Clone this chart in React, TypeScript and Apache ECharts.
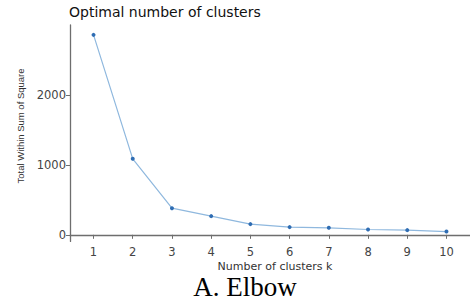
import React, { useEffect, useRef } from "react";
import * as echarts from "echarts";

const ks = [1, 2, 3, 4, 5, 6, 7, 8, 9, 10];
const wss = [2857, 1086, 381, 267, 153, 110, 100, 76, 67, 47];
const yTicks = [0, 1000, 2000];
const chartTitle = "Optimal number of clusters";
const xTitle = "Number of clusters k";
const yTitle = "Total Within Sum of Square";
const caption = "A. Elbow";

export default function App() {
  const ref = useRef<HTMLDivElement>(null);
  useEffect(() => {
    if (!ref.current) return;
    const chart = echarts.init(ref.current, null, { renderer: "svg" });
    const axisColor = "#6e6e6e";
    const labelColor = "#444444";
    chart.setOption({
      animation: false,
      backgroundColor: "#ffffff",
      title: {
        text: chartTitle,
        left: 69,
        top: 5,
        padding: 0,
        textStyle: {
          fontFamily: "DejaVu Sans",
          fontSize: 14,
          fontWeight: "normal",
          color: "#111111",
        },
      },
      grid: { left: 70, top: 25, width: 411, height: 216.4 },
      xAxis: {
        type: "value",
        min: 0.4,
        max: 10.6,
        axisLine: { show: true, lineStyle: { color: axisColor, width: 1.3 } },
        axisTick: {
          show: true,
          length: 4,
          customValues: ks,
          lineStyle: { color: axisColor, width: 1 },
        },
        axisLabel: {
          customValues: ks,
          margin: 5,
          formatter: (v: number) => String(v),
          fontFamily: "DejaVu Sans",
          fontSize: 11.5,
          color: labelColor,
        },
        splitLine: { show: false },
      },
      yAxis: {
        type: "value",
        min: -94,
        max: 2998,
        axisLine: { show: true, lineStyle: { color: axisColor, width: 1.3 } },
        axisTick: {
          show: true,
          length: 4,
          customValues: yTicks,
          lineStyle: { color: axisColor, width: 1 },
        },
        axisLabel: {
          customValues: yTicks,
          margin: 4,
          formatter: (v: number) => String(v),
          fontFamily: "DejaVu Sans",
          fontSize: 11.5,
          color: labelColor,
        },
        splitLine: { show: false },
      },
      graphic: [
        {
          type: "text",
          x: 275,
          y: 266,
          style: {
            text: xTitle,
            align: "center",
            verticalAlign: "middle",
            fontFamily: "DejaVu Sans",
            fontSize: 11,
            fill: "#333333",
          },
        },
        {
          type: "text",
          x: 20,
          y: 126,
          rotation: Math.PI / 2,
          style: {
            text: yTitle,
            align: "center",
            verticalAlign: "middle",
            fontFamily: "Liberation Sans",
            fontSize: 9.5,
            fill: "#333333",
          },
        },
        {
          type: "text",
          x: 245,
          y: 287,
          style: {
            text: caption,
            align: "center",
            verticalAlign: "middle",
            fontFamily: "Liberation Serif",
            fontSize: 27,
            fill: "#000000",
          },
        },
      ],
      series: [
        {
          type: "line",
          data: ks.map((k, i) => [k, wss[i]]),
          symbol: "circle",
          symbolSize: 4,
          lineStyle: { color: "#8fb8de", width: 1.2 },
          itemStyle: { color: "#2f6db3" },
        },
      ],
    });
    return () => chart.dispose();
  }, []);
  return (
    <div
      ref={ref}
      style={{ position: "fixed", left: 0, top: 0, width: 470, height: 307 }}
    />
  );
}
